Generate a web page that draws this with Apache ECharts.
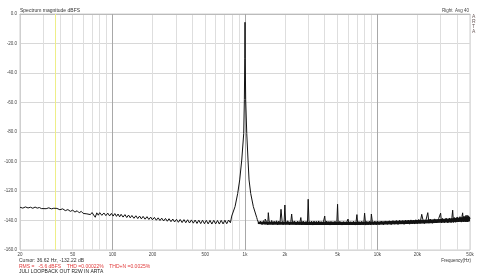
<!DOCTYPE html>
<html><head><meta charset="utf-8">
<script src="https://cdn.jsdelivr.net/npm/echarts@6/dist/echarts.min.js"></script>
<style>html,body{margin:0;padding:0;background:#fff}#c{width:490px;height:275px}</style>
</head><body><div id="c"></div>
<script>
// ---- tick labels / grid ----
const xTickLabels = [20, 50, 100, 200, 500, 1000, 2000, 5000, 10000, 20000, 50000];
const xGridLines = [20,30,40,50,60,70,80,90,100,200,300,400,500,600,700,800,900,1000,2000,3000,4000,5000,6000,7000,8000,9000,10000,20000,30000,40000,50000];
const xDecadeLines = [100, 1000, 10000];
const yTicks = [0, -20, -40, -60, -80, -100, -120, -140, -160];
const cursorFreq = 36.62;

// ---- spectrum (Hz, dBFS) ----
const lowFloor = [
 [20,-131.0],[21,-131.6],[22,-130.8],[23,-131.5],[24,-131.0],[25,-131.7],[26,-130.9],[27,-131.6],[28,-131.2],[29,-131.9],
 [30,-131.3],[31.5,-132.0],[33,-131.4],[34.5,-132.1],[36,-131.7],[36.62,-132.22],[38,-131.8],[40,-132.7],[42,-132.1],[44,-133.3],
 [46,-132.6],[48,-133.8],[50,-133.0],[52,-134.3],[54,-133.4],[56,-134.8],[58,-133.8],[60,-135.2],[62,-134.0],[64,-135.5],
 [66,-134.3],[68,-136.0],[70,-134.6],[72,-136.3],[74,-137.8],[76,-134.8],[78,-136.4],[80,-134.7],[83,-136.5],[86,-134.9],
 [89,-136.7],[92,-135.0],[95,-136.9],[98,-135.2],[101,-137.0],[104,-135.3],[107,-137.2],[110,-135.6],[113,-137.5],[116,-135.8],
 [120,-137.7],[124,-136.0],[128,-138.0],[132,-136.3],[136,-138.2],[140,-136.6],[145,-138.5],[150,-136.8],[155,-138.7],[160,-137.0],
 [165,-138.9],[170,-137.2],[176,-139.1],[182,-137.4],[188,-139.3],[194,-137.7],[200,-139.5],[207,-137.9],[214,-139.8],[221,-138.2],
 [228,-140.0],[235,-138.4],[243,-140.3],[251,-138.6],[259,-140.5],[267,-138.8],[276,-140.8],[285,-139.0],[294,-141.0],[304,-139.2],
 [314,-141.2],[324,-139.3],[335,-141.4],[346,-139.4],[357,-141.5],[369,-139.5],[381,-141.7],[394,-139.6],[407,-141.8],[420,-139.7],
 [434,-142.0],[448,-139.8],[463,-142.1],[478,-139.8],[494,-142.2],[510,-139.9],[527,-142.3],[544,-139.9],[562,-142.4],[581,-139.9],
 [600,-142.3],[620,-140.0],[640,-142.4],[661,-139.9],[683,-142.3],[705,-139.8],[728,-142.2],[752,-139.7],[776,-141.5]
];
const fundamental = [
 [794,-137.0],[841,-130.6],[881,-121.6],[912,-112.5],[945,-99.0],[978,-81.0],[989,-58.0],[996,-30.0],[1000,-5.6],
 [1004,-30.0],[1012,-58.0],[1031,-81.0],[1054,-99.0],[1073,-112.5],[1104,-121.6],[1156,-130.6],[1226,-138.0]
];
const highFloor = [
 [1240,-139.5],[1275,-142.3],[1310,-140.4],[1345,-142.8],[1380,-140.1],[1415,-142.5],[1450,-140.6],[1485,-142.9],[1520,-140.3],[1555,-142.4],
 [1590,-140.0],[1625,-142.7],[1660,-140.5],[1695,-142.2],[1730,-140.2],[1765,-143.0],[1800,-140.4],[1835,-142.5],[1905,-140.1],[1940,-142.8],
 [1975,-140.5],[2030,-142.6],[2100,-140.2],[2170,-142.9],[2220,-140.6],[2290,-142.4],[2360,-140.3],[2430,-142.8],[2500,-140.5],[2570,-142.6],
 [2610,-140.2],[2680,-143.0],[2750,-140.4],[2820,-142.5],[2890,-140.7],[2960,-142.9],[3040,-140.3],[3110,-142.6],[3180,-140.5],[3250,-143.1],
 [3320,-140.4],[3390,-142.7],[3460,-140.6],[3530,-142.9],[3600,-140.3],[3680,-142.6],[3760,-140.8],[3840,-143.0],[3920,-140.5],[4060,-142.8],
 [4140,-140.4],[4220,-142.6],[4300,-140.7],[4380,-143.1],[4460,-140.6],[4540,-142.7],[4620,-140.9],[4700,-143.0],[4780,-140.5],[4860,-142.8],
 [4940,-140.8],[5060,-142.9],[5200,-140.6],[5400,-143.1],[5550,-140.8],[5750,-142.7],[5900,-140.5],[6100,-143.0],[6250,-140.9],[6450,-142.8],
 [6600,-140.6],[6800,-143.1],[6900,-140.7],[7100,-142.9],[7250,-140.8],[7450,-143.0],[7600,-140.6],[7800,-142.8],[7900,-140.9],[8150,-143.1],
 [8300,-140.7],[8500,-142.9],[8700,-140.6],[8900,-143.0],[9150,-140.8],[9350,-142.7],[9550,-140.5],[9800,-142.9],[10000,-140.6],[10300,-142.8],
 [10700,-140.4],[11100,-142.9],[11500,-140.3],[11900,-142.6],[12300,-140.2],[12700,-142.8],[13100,-140.1],[13500,-142.5],[13900,-140.0],[14300,-142.7],
 [14700,-139.9],[15100,-142.4],[15500,-140.1],[15900,-142.6],[16300,-139.8],[16700,-142.3],[17100,-139.7],[17500,-142.5],[17900,-139.6],[18300,-142.2],
 [18700,-139.8],[19100,-142.4],[19500,-139.5],[20000,-142.1],[20500,-139.3],[21000,-141.9],[22000,-139.1],[22600,-142.1],[23300,-139.4],[24500,-141.8],
 [25000,-139.0],[26000,-141.9],[27000,-138.9],[28000,-141.6],[29000,-138.7],[30500,-141.7],[31000,-138.6],[32000,-141.5],[33000,-138.4],[34000,-141.6],
 [35000,-138.3],[36000,-141.4],[36500,-138.1],[37500,-141.3],[38000,-137.9],[39000,-141.2],[40000,-137.6],[41000,-141.0],[42000,-137.4],[43000,-141.1],
 [43500,-137.2],[44500,-140.9],[45000,-137.0],[46000,-141.0],[46500,-136.6],[47000,-140.8],[47500,-136.4],[48000,-141.0],[48500,-136.8],[49000,-140.6],
 [49500,-137.5],[50000,-139.0]
];
const harmonics = [
 [1420,-139.0],[1500,-134.7],[1600,-139.2],[1870,-132.4],[2000,-129.5],[2250,-135.6],[2640,-138.0],[3000,-125.6],[4000,-137.0],[5000,-129.0],
 [6000,-139.0],[7000,-136.0],[8000,-135.0],[9000,-135.6],[21600,-135.8],[24000,-134.7],[30000,-135.0],[37000,-133.0],[44000,-134.8]
];
// dense noise band core (upper / lower envelope, dBFS)
const bandFreqs = [1250, 1500, 2000, 3000, 4000, 5000, 7000, 10000, 14000, 20000, 25000, 30000, 35000, 40000, 45000, 48000, 50000];
const bandLower = [-142.4, -142.8, -142.9, -143.0, -143.0, -143.0, -143.0, -142.9, -142.6, -142.2, -141.9, -141.6, -141.3, -141.0, -140.8, -140.7, -140.5];
const bandUpper = [-140.8, -140.8, -140.8, -140.8, -140.8, -140.8, -140.8, -140.6, -140.2, -139.7, -139.4, -139.0, -138.7, -138.2, -137.7, -137.3, -137.8];

const spectrum = lowFloor.concat(fundamental, highFloor, harmonics).sort((a, b) => a[0] - b[0]);

const FONT = 'Liberation Sans';
const T = (text, pos, size, color, extra) => Object.assign({text, padding: 0,
  textStyle: Object.assign({fontSize: size, fontWeight: 'normal', color, fontFamily: FONT}, extra || {})}, pos);

const chart = echarts.init(document.getElementById('c'), null, {renderer: 'canvas'});
chart.setOption({
  animation: false,
  backgroundColor: '#ffffff',
  textStyle: {fontFamily: FONT},
  grid: {left: 20, right: 20, top: 14, bottom: 25, show: true, borderColor: '#cfcfcf', borderWidth: 1},
  title: [
    T('Spectrum magnitude dBFS', {left: 20, top: 8}, 5, '#333'),
    T('Right  Avg 40', {right: 21, top: 8.5}, 4.5, '#444'),
    T('A\nR\nT\nA', {left: 472, top: 14}, 5, '#6a5a5a', {lineHeight: 5}),
    T('Frequency(Hz)', {right: 19, top: 258}, 4.5, '#333'),
    T('Cursor: 36.62 Hz, -132.22 dB', {left: 19, top: 258.5}, 5, '#333'),
    T('RMS =   -5.6 dBFS    THD =0.00022%    THD+N =0.0025%', {left: 19, top: 264}, 5, '#e03a3a'),
    T('JULI LOOPBACK OUT R2W IN ARTA', {left: 19, top: 269}, 5, '#222')
  ],
  xAxis: {
    type: 'log', logBase: 10, min: 20, max: 50000,
    axisLine: {show: true, lineStyle: {color: '#bbb'}},
    axisTick: {show: false, customValues: xGridLines},
    splitLine: {show: true, lineStyle: {color: '#dedede', width: 1}},
    axisLabel: {customValues: xTickLabels, fontSize: 4.5, color: '#444', margin: 2, fontFamily: FONT,
      formatter: v => v >= 1000 ? (v / 1000) + 'k' : String(v)}
  },
  yAxis: {
    type: 'value', min: -160, max: 0, interval: 20,
    axisLine: {show: true, lineStyle: {color: '#cfcfcf'}},
    axisTick: {show: false},
    splitLine: {show: true, lineStyle: {color: '#d8d8d8', width: 1}},
    axisLabel: {fontSize: 4.5, color: '#444', margin: 3, fontFamily: FONT, formatter: v => v.toFixed(1)}
  },
  series: [
    {
      type: 'line', data: [], z: 1, silent: true,
      markLine: {
        silent: true, symbol: 'none', label: {show: false}, animation: false,
        data: xDecadeLines.map(f => ({xAxis: f, lineStyle: {color: '#a8a8a8', width: 1, type: 'solid'}}))
          .concat([{xAxis: cursorFreq, lineStyle: {color: '#eeee88', width: 1, type: 'solid'}}])
      }
    },
    {
      // dense noise band core, drawn through the axes
      type: 'custom', z: 5, silent: true,
      data: [[bandFreqs[0], bandUpper[0]]],
      encode: {x: 0, y: 1},
      renderItem: (params, api) => {
        const top = bandFreqs.map((f, i) => api.coord([f, bandUpper[i]]));
        const bot = bandFreqs.map((f, i) => api.coord([f, bandLower[i]])).reverse();
        return {type: 'polygon', shape: {points: top.concat(bot)}, style: {fill: '#151515'}};
      }
    },
    {
      type: 'line', data: spectrum, z: 10, showSymbol: false, symbol: 'none', sampling: null,
      lineStyle: {color: '#111', width: 1}, silent: true
    }
  ]
});
</script>
</body></html>
